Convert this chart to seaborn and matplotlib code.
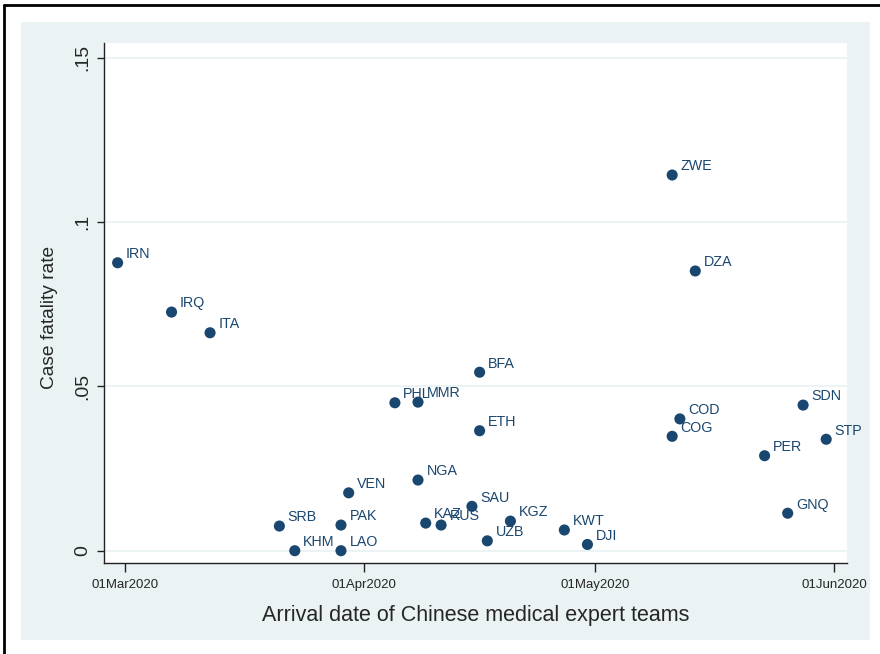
import matplotlib
matplotlib.use("Agg")
import matplotlib.pyplot as plt
import matplotlib.dates as mdates
from matplotlib.patches import Rectangle
from matplotlib.lines import Line2D
import pandas as pd
import seaborn as sns

# Country codes, arrival dates of the expert teams and case fatality rates
countries = ["IRN", "IRQ", "ITA", "SRB", "KHM", "PAK", "LAO", "VEN", "PHL", "MMR",
             "NGA", "KAZ", "RUS", "SAU", "BFA", "ETH", "UZB", "KGZ", "KWT", "DJI",
             "ZWE", "COG", "COD", "DZA", "PER", "GNQ", "SDN", "STP"]
arrival = ["2020-02-29", "2020-03-07", "2020-03-12", "2020-03-21", "2020-03-23",
           "2020-03-29", "2020-03-29", "2020-03-30", "2020-04-05", "2020-04-08",
           "2020-04-08", "2020-04-09", "2020-04-11", "2020-04-15", "2020-04-16",
           "2020-04-16", "2020-04-17", "2020-04-20", "2020-04-27", "2020-04-30",
           "2020-05-11", "2020-05-11", "2020-05-12", "2020-05-14", "2020-05-23",
           "2020-05-26", "2020-05-28", "2020-05-31"]
cfr = [0.0876, 0.0726, 0.0663, 0.0075, 0.0, 0.0078, 0.0, 0.0176, 0.0450, 0.0452,
       0.0215, 0.0084, 0.0078, 0.0135, 0.0543, 0.0365, 0.0030, 0.0090, 0.0063, 0.0019,
       0.1143, 0.0348, 0.0401, 0.0851, 0.0289, 0.0114, 0.0443, 0.0339]

x_ticks = ["2020-03-01", "2020-04-01", "2020-05-01", "2020-06-01"]
y_ticks = [0, 0.05, 0.10, 0.15]
y_tick_labels = ["0", ".05", ".1", ".15"]

NAVY = "#1a476f"
BG = "#eaf2f3"

df = pd.DataFrame({"country": countries,
                   "arrival": pd.to_datetime(arrival),
                   "cfr": cfr})

sns.set_style("white")
plt.rcParams["font.family"] = ["Liberation Sans", "DejaVu Sans"]

W, H = 880, 654
fig = plt.figure(figsize=(W / 100, H / 100), dpi=100)
fig.patch.set_facecolor("white")

# Graph region background and the frame lines at top and left
fig.patches.append(Rectangle((21 / W, 1 - 640 / H), (870 - 21) / W, (640 - 22) / H,
                             transform=fig.transFigure, facecolor=BG,
                             edgecolor="none", zorder=-5))
fig.lines.append(Line2D([3.5 / W, 1], [1 - 5.3 / H, 1 - 5.3 / H],
                        transform=fig.transFigure, color="black", lw=2, zorder=-4))
fig.lines.append(Line2D([3.5 / W, 3.5 / W], [0, 1 - 5.3 / H],
                        transform=fig.transFigure, color="black", lw=2, zorder=-4))

ax = fig.add_axes([104 / W, 1 - 563 / H, (847 - 104) / W, (563 - 43) / H])
ax.set_facecolor("white")

sns.scatterplot(data=df, x="arrival", y="cfr", ax=ax, color=NAVY, s=64,
                edgecolor="none", linewidth=0, zorder=3, legend=False)

for _, r in df.iterrows():
    ax.annotate(r["country"], (mdates.date2num(r["arrival"]), r["cfr"]),
                xytext=(8.4, 8.7), textcoords="offset pixels",
                ha="left", va="center", color=NAVY, fontsize=10.3, zorder=4)

x0 = mdates.date2num(pd.Timestamp("2020-03-01"))
ax.set_xlim(x0 - 2.77, x0 + 93.7)
ax.set_ylim(-0.00374, 0.15446)

ax.set_xticks(pd.to_datetime(x_ticks))
ax.xaxis.set_major_formatter(mdates.DateFormatter("%d%b%Y"))
ax.set_yticks(y_ticks)
ax.set_yticklabels(y_tick_labels, rotation=90, va="center")

ax.grid(axis="y", color=BG, lw=1.3)
ax.grid(axis="x", visible=False)
ax.set_axisbelow(True)

for side in ["top", "right"]:
    ax.spines[side].set_visible(False)
for side in ["left", "bottom"]:
    ax.spines[side].set_color("#222222")
    ax.spines[side].set_linewidth(1.0)

ax.tick_params(axis="x", direction="out", length=6.5, width=1, color="#222222",
               labelsize=9.5, pad=5, bottom=True)
ax.tick_params(axis="y", direction="out", length=5, width=1, color="#222222",
               labelsize=14, pad=4, left=True)

ax.set_xlabel("Arrival date of Chinese medical expert teams", fontsize=15.5, labelpad=10)
ax.set_ylabel("Case fatality rate", fontsize=13.8, labelpad=12, y=0.473)

fig.savefig("out.png", dpi=100, facecolor=fig.get_facecolor())
